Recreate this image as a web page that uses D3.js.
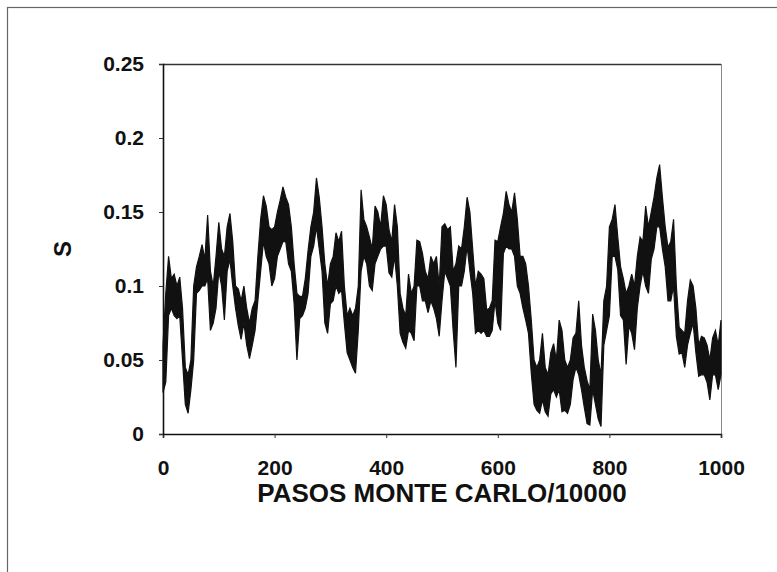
<!DOCTYPE html>
<html>
<head>
<meta charset="utf-8">
<script src="https://cdn.jsdelivr.net/npm/d3@7"></script>
<style>
html,body{margin:0;padding:0;background:#fff;}
svg{display:block;}
text{font-family:"Liberation Sans",Arial,sans-serif;font-weight:bold;fill:#111;}
</style>
</head>
<body>
<svg id="chart" width="777" height="572"></svg>
<script>
// Monte Carlo steps (/10000) sampled every 5 units, with the upper and lower edge of the noisy S trace
const stepSize = 5;
const sHigh = [
  0.06,0.095,0.12,0.105,0.108,0.1,0.106,0.085,0.045,0.04, 0.05,0.1,0.113,0.12,0.128,0.118,0.148,0.11,0.1,0.12,
  0.143,0.125,0.12,0.14,0.149,0.13,0.1,0.098,0.09,0.1, 0.085,0.075,0.085,0.09,0.12,0.145,0.161,0.154,0.14,0.138,
  0.14,0.15,0.158,0.167,0.16,0.155,0.14,0.115,0.095,0.093, 0.093,0.105,0.124,0.14,0.15,0.173,0.16,0.14,0.115,0.1,
  0.115,0.12,0.136,0.13,0.137,0.1,0.08,0.085,0.08,0.085, 0.1,0.165,0.145,0.14,0.133,0.125,0.154,0.15,0.14,0.161,
  0.155,0.138,0.13,0.155,0.14,0.095,0.085,0.08,0.108,0.095, 0.1,0.131,0.13,0.122,0.11,0.105,0.12,0.115,0.12,0.1,
  0.14,0.142,0.138,0.14,0.11,0.115,0.127,0.125,0.14,0.16, 0.15,0.125,0.1,0.11,0.108,0.105,0.084,0.085,0.09,0.131,
  0.13,0.14,0.149,0.164,0.155,0.15,0.163,0.145,0.12,0.12, 0.115,0.1,0.077,0.05,0.045,0.05,0.068,0.045,0.04,0.055,
  0.061,0.05,0.077,0.07,0.05,0.045,0.05,0.065,0.068,0.09, 0.06,0.045,0.036,0.03,0.081,0.07,0.05,0.04,0.09,0.1,
  0.14,0.145,0.155,0.133,0.113,0.105,0.095,0.1,0.108,0.1, 0.12,0.133,0.13,0.154,0.14,0.15,0.16,0.173,0.182,0.16,
  0.14,0.126,0.13,0.145,0.1,0.072,0.07,0.068,0.09,0.104, 0.1,0.085,0.06,0.066,0.065,0.06,0.05,0.065,0.07,0.06,
  0.077
];
const sLow = [
  0.028,0.035,0.08,0.085,0.08,0.078,0.08,0.05,0.02,0.014, 0.03,0.05,0.095,0.097,0.1,0.1,0.105,0.07,0.075,0.085,
  0.11,0.1,0.077,0.11,0.118,0.1,0.085,0.073,0.064,0.075, 0.06,0.051,0.06,0.07,0.09,0.11,0.13,0.12,0.115,0.1,
  0.105,0.12,0.125,0.13,0.13,0.115,0.11,0.088,0.05,0.078, 0.08,0.085,0.095,0.12,0.127,0.14,0.125,0.11,0.075,0.068,
  0.088,0.09,0.1,0.095,0.097,0.075,0.055,0.05,0.045,0.041, 0.07,0.11,0.12,0.115,0.1,0.097,0.115,0.12,0.125,0.127,
  0.127,0.109,0.106,0.12,0.1,0.068,0.062,0.058,0.07,0.068, 0.063,0.1,0.1,0.09,0.09,0.082,0.09,0.085,0.078,0.066,
  0.09,0.11,0.105,0.1,0.07,0.045,0.1,0.1,0.11,0.127, 0.11,0.095,0.068,0.07,0.068,0.07,0.066,0.066,0.07,0.09,
  0.075,0.07,0.122,0.127,0.125,0.125,0.12,0.1,0.095,0.085, 0.077,0.068,0.041,0.02,0.016,0.014,0.023,0.015,0.012,0.027,
  0.03,0.025,0.03,0.015,0.016,0.014,0.02,0.037,0.045,0.04, 0.03,0.018,0.007,0.006,0.03,0.02,0.01,0.005,0.06,0.07,
  0.08,0.12,0.12,0.111,0.08,0.077,0.047,0.073,0.068,0.057, 0.085,0.1,0.11,0.1,0.095,0.118,0.125,0.14,0.14,0.125,
  0.113,0.09,0.09,0.1,0.066,0.054,0.055,0.045,0.06,0.068, 0.075,0.055,0.039,0.04,0.04,0.035,0.023,0.04,0.04,0.03,
  0.04
];
const xTicks = [0, 200, 400, 600, 800, 1000];
const yTicks = [0, 0.05, 0.1, 0.15, 0.2, 0.25];
const yTickLabels = ["0", "0.05", "0.1", "0.15", "0.2", "0.25"];
const xTitle = "PASOS MONTE CARLO/10000";
const yTitle = "S";

const data = sHigh.map((h, i) => ({paso: i * stepSize, hi: h, lo: sLow[i]}));

const svg = d3.select("#chart");
const m = {left: 163, right: 721, top: 64, bottom: 434};
const x = d3.scaleLinear().domain([0, 1000]).range([m.left, m.right]);
const y = d3.scaleLinear().domain([0, 0.25]).range([m.bottom, m.top]);

// outer frame
svg.append("rect").attr("x", 7.5).attr("y", 7.5).attr("width", 800).attr("height", 600)
  .attr("fill", "none").attr("stroke", "#666").attr("stroke-width", 1.2);

// plot box
svg.append("line").attr("x1", m.left).attr("x2", m.right).attr("y1", m.top + 0.5).attr("y2", m.top + 0.5)
  .attr("stroke", "#333").attr("stroke-width", 1.3);
svg.append("line").attr("x1", m.right + 0.5).attr("x2", m.right + 0.5).attr("y1", m.top).attr("y2", m.bottom)
  .attr("stroke", "#888").attr("stroke-width", 1);

// trace
svg.append("path").datum(data)
  .attr("d", d3.area().x(d => x(d.paso)).y0(d => y(d.lo)).y1(d => y(d.hi)))
  .attr("fill", "#111").attr("stroke", "#111").attr("stroke-width", 1.2);

// axes
const gx = svg.append("g").attr("transform", `translate(0,${m.bottom})`)
  .call(d3.axisBottom(x).tickValues(xTicks).tickSize(4).tickPadding(22).tickFormat(d3.format("d")));
const gy = svg.append("g").attr("transform", `translate(${m.left},0)`)
  .call(d3.axisLeft(y).tickValues(yTicks).tickSize(4).tickPadding(15)
    .tickFormat((d, i) => yTickLabels[i]));
[gx, gy].forEach(g => {
  g.select(".domain").attr("stroke", "#111").attr("stroke-width", 1.6);
  g.selectAll(".tick line").attr("stroke", "#333");
  g.selectAll("text").attr("font-size", 21).attr("font-family", "Liberation Sans, Arial, sans-serif")
    .attr("font-weight", "bold").attr("fill", "#111");
});

svg.append("text").attr("x", (m.left + m.right) / 2).attr("y", 502)
  .attr("text-anchor", "middle").attr("font-size", 26).text(xTitle);
svg.append("text").attr("transform", `translate(71,${(m.top + m.bottom) / 2}) rotate(-90)`)
  .attr("text-anchor", "middle").attr("font-size", 24).text(yTitle);
</script>
</body>
</html>
